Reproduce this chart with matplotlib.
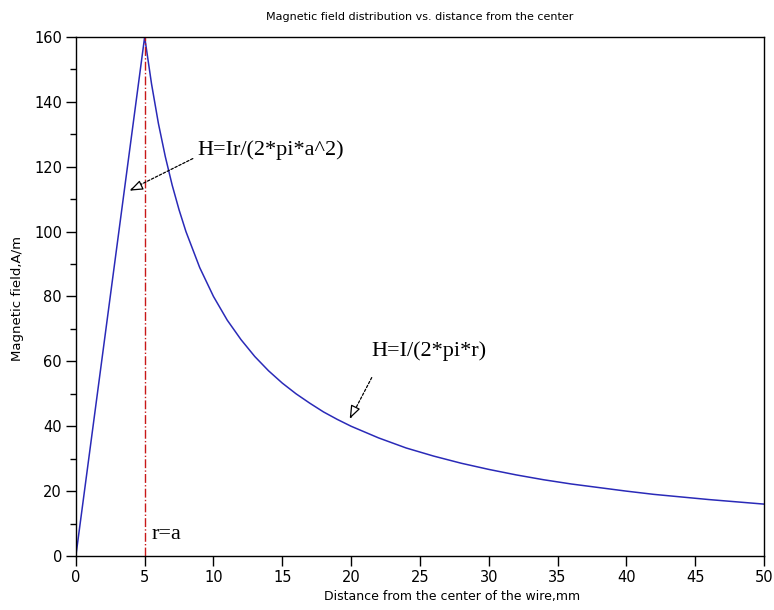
import numpy as np
import matplotlib.pyplot as plt
from matplotlib.ticker import MultipleLocator

# distance from the wire centre (mm) and field (A/m)
r = [0, 1, 2, 3, 4, 5, 5.5, 6, 6.5, 7, 7.5, 8, 9, 10, 11, 12, 13, 14, 15,
     16, 17, 18, 19, 20, 22, 24, 26, 28, 30, 32, 34, 36, 38, 40, 42, 44,
     46, 48, 50]
H = [0, 32, 64, 96, 128, 160, 145.5, 133.3, 123.1, 114.3, 106.7, 100, 88.9,
     80, 72.7, 66.7, 61.5, 57.1, 53.3, 50, 47.1, 44.4, 42.1, 40, 36.4, 33.3,
     30.8, 28.6, 26.7, 25, 23.5, 22.2, 21.1, 20, 19, 18.2, 17.4, 16.7, 16]
r_a = 5

fig = plt.figure(figsize=(7.74, 6.1), dpi=100)
ax = fig.add_axes([0.098, 0.0885, 0.889, 0.851])

ax.plot(r, H, color='#2a2ab8', linewidth=1.1)
ax.plot([r_a, r_a], [0, 160], color='#c81818', linewidth=1.0, linestyle='-.')

ax.set_xlim(0, 50)
ax.set_ylim(0, 160)
ax.xaxis.set_major_locator(MultipleLocator(5))
ax.yaxis.set_major_locator(MultipleLocator(20))
ax.yaxis.set_minor_locator(MultipleLocator(10))
ax.tick_params(axis='both', which='major', direction='out', length=7, width=1,
               labelsize=10.5, pad=3)
ax.tick_params(axis='y', which='minor', direction='out', length=4, width=1)
ax.tick_params(top=False, right=False)
for s in ax.spines.values():
    s.set_linewidth(1.0)

ax.set_title('Magnetic field distribution vs. distance from the center',
             fontsize=8, pad=12)
ax.set_xlabel('Distance from the center of the wire,mm', fontsize=9)
ax.set_ylabel('Magnetic field,A/m', fontsize=9.5)
ax.xaxis.set_label_coords(0.547, -0.066)
ax.yaxis.set_label_coords(-0.076, 0.497)

serif = 'Liberation Serif'
ax.text(5.5, 6.5, 'r=a', fontsize=16, family=serif, va='center')

# annotation 1: inside the wire
ax.text(8.8, 125.2, 'H=Ir/(2*pi*a^2)', fontsize=16, family=serif, va='center')
ax.annotate('', xy=(4.0, 113), xytext=(8.5, 122.5),
            arrowprops=dict(arrowstyle='-', linestyle=(0, (2, 1.5)),
                            color='black', lw=0.9, shrinkA=0, shrinkB=0))
ax.annotate('', xy=(3.9, 112.6), xytext=(4.4, 113.6),
            arrowprops=dict(arrowstyle='-|>,head_length=0.8,head_width=0.3',
                            fc='white', ec='black', lw=0.9,
                            shrinkA=0, shrinkB=0))

# annotation 2: outside the wire
ax.text(21.5, 63, 'H=I/(2*pi*r)', fontsize=16, family=serif, va='center')
ax.annotate('', xy=(20.0, 42.8), xytext=(21.5, 55),
            arrowprops=dict(arrowstyle='-', linestyle=(0, (2, 1.5)),
                            color='black', lw=0.9, shrinkA=0, shrinkB=0))
ax.annotate('', xy=(19.9, 42.3), xytext=(20.05, 43.6),
            arrowprops=dict(arrowstyle='-|>,head_length=0.8,head_width=0.3',
                            fc='white', ec='black', lw=0.9,
                            shrinkA=0, shrinkB=0))

fig.savefig('out.png', dpi=100)
